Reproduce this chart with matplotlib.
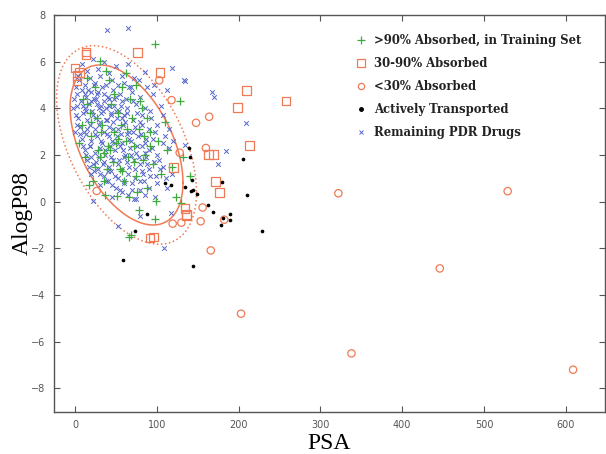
import numpy as np
import matplotlib
matplotlib.use("Agg")
import matplotlib.pyplot as plt
from matplotlib.lines import Line2D

# ---------------- data (PSA, AlogP98) ----------------
train_psa = [30.6, 97.8, 128, 132, 140, 130, 69, 66, 17, 36.7, 51, 66, 78.6, 97.8, 99, 124,
             10, 18, 25, 33, 40, 48, 55, 62, 70, 75, 85, 92, 105, 112, 20, 30, 44, 58, 65, 78,
             88, 8, 15, 38, 52, 60, 72, 82, 95, 102, 27, 36, 47, 56, 67, 76, 84, 12, 22, 42,
             88, 110, 118, 5, 62, 75, 28, 50, 35,
             19.5, 31.2, 43.1, 57.7, 63.8, 47.3, 24.6, 71.8, 83.4, 53.1, 38.6, 14.9, 91.1, 79.2]
train_logp = [6.04, 6.74, 4.3, 1.9, 1.1, -0.06, -1.44, -1.5, 0.73, 0.3, 0.23, 0.18, -0.34, -0.76, 0.03, 0.18,
              4.4, 3.8, 4.9, 3.3, 2.4, 3.0, 1.4, 2.6, 3.6, 1.1, 2.0, 3.0, 1.2, 2.2, 2.8, 1.9, 4.2, 4.9, 1.9, 3.1,
              0.6, 3.3, 5.3, 5.6, 3.8, 0.9, 2.4, 4.0, 1.6, 2.6, 3.6, 2.1, 1.7, 3.3, 4.4, 0.4, 2.8, 1.9, 0.9, 5.2,
              3.6, 3.4, 1.5, 2.5, 5.5, 5.0, 2.2, 2.5, 0.9,
              3.4, 3.0, 2.2, 1.3, 3.1, 4.6, 1.5, 1.7, 1.8, 2.7, 1.4, 4.2, 2.4, 4.3]

mid_psa = [13.4, 13.4, 0, 5, 2.5, 2.5, 76.6, 104, 210, 258, 199, 213, 163, 169, 172, 177, 136,
           120, 134.5, 136.5, 91.7, 95.7]
mid_logp = [6.41, 6.3, 5.73, 5.55, 5.4, 5.17, 6.4, 5.52, 4.78, 4.31, 4.02, 2.42, 2.03, 2.03, 0.85, 0.39, -0.55,
            1.45, -0.3, -0.58, -1.56, -1.51]

low_psa = [103, 118, 148, 164, 160, 156, 153.6, 182.5, 166, 203, 130, 128, 26.5, 119.4,
           322, 529, 446, 338, 609]
low_logp = [5.2, 4.35, 3.38, 3.64, 2.3, -0.25, -0.84, -0.77, -2.09, -4.8, -0.9, 2.1, 0.46, -0.94,
            0.36, 0.45, -2.86, -6.5, -7.2]

active_psa = [139.7, 140.6, 205, 142.6, 180, 134, 142, 144, 148.8, 210, 163, 169, 189.5, 189.5,
              180.5, 179, 229, 143.9, 58.3, 73.7, 87.6, 110, 117]
active_logp = [2.32, 1.92, 1.82, 0.95, 0.85, 0.63, 0.45, 0.49, 0.35, 0.27, -0.15, -0.44, -0.54, -0.77,
               -0.68, -0.98, -1.27, -2.76, -2.52, -1.26, -0.54, 0.82, 0.7]

pdr_psa = [8, 15, 22, 28, 35, 42, 50, 58, 65, 72,
           5, 12, 18, 25, 31, 38, 45, 52, 60, 68, 78, 88,
           3, 9, 14, 20, 27, 33, 40, 47, 55, 62, 70, 80, 95,
           2, 7, 12, 17, 23, 29, 35, 41, 48, 56, 63, 75, 86, 105,
           4, 10, 15, 21, 26, 32, 38, 44, 50, 57, 64, 71, 82, 93, 108,
           6, 11, 18, 24, 30, 36, 42, 47, 53, 59, 66, 73, 80, 90, 100,
           8, 14, 20, 27, 33, 39, 45, 51, 57, 63, 69, 77, 85, 95, 110, 120,
           12, 18, 25, 31, 37, 43, 49, 55, 61, 67, 74, 82, 90, 100, 115,
           15, 22, 29, 35, 41, 47, 53, 60, 66, 72, 79, 87, 97, 108,
           20, 28, 36, 44, 52, 58, 65, 73, 82, 92, 104, 118,
           30, 40, 50, 60, 70, 80, 90, 100, 112,
           45, 58, 72, 85, 98,
           53, 109, 117, 80,
           39.5, 64.4, 118, 133.6, 167, 170, 112, 96, 85, 134.5, 209, 134.5, 184, 175, 22.4, 0, -2,
           14.2, 17.8, 21.5, 24.1, 26.9, 29.3, 31.7, 34.4, 36.8, 39.1, 41.6, 43.9, 46.3, 48.7, 51.2,
           53.5, 55.9, 58.4, 60.8, 63.3, 65.7, 68.1, 70.6, 73.0, 75.4, 77.9, 80.3, 82.8, 85.2, 87.6,
           9.5, 11.8, 13.6, 16.4, 19.2, 22.7, 25.3, 28.6, 32.1, 35.5, 38.2, 41.0, 44.6, 47.8, 50.4,
           53.9, 57.2, 60.1, 1.2, 3.5, -1.5, 0.8, 2.9, 6.3, 9.8, 13.1, 16.7, 19.9, 23.4, 26.2,
           30.6, 33.8, 37.4, 40.9, 45.1, 49.3, 54.6, 59.7, 64.9, 69.8, 74.2, 79.6, 84.7, 89.9, 94.3,
           98.6, 103.2, 107.7, 111.3, 114.8, 66.5, 71.2, 76.3, 81.7, 86.9, 91.4, 97.2]
pdr_logp = [5.9, 5.6, 6.1, 5.7, 6.0, 5.5, 5.8, 5.4, 5.9, 5.3,
            5.2, 5.0, 5.3, 5.1, 5.4, 5.0, 5.2, 5.0, 5.1, 4.9, 5.2, 4.9,
            4.6, 4.8, 4.5, 4.7, 4.6, 4.9, 4.5, 4.8, 4.6, 4.4, 4.7, 4.5, 4.6,
            4.1, 4.3, 4.0, 4.2, 4.4, 4.0, 4.3, 4.1, 4.4, 4.1, 4.0, 4.2, 4.0, 4.1,
            3.6, 3.8, 3.5, 3.9, 3.6, 3.8, 3.5, 3.7, 3.9, 3.6, 3.8, 3.5, 3.7, 3.6, 3.7,
            3.2, 3.0, 3.3, 3.1, 3.4, 3.0, 3.2, 3.4, 3.1, 3.3, 3.0, 3.2, 3.4, 3.1, 3.3,
            2.7, 2.9, 2.6, 2.8, 2.5, 2.9, 2.6, 2.8, 2.5, 2.9, 2.6, 2.8, 2.5, 2.7, 2.8, 2.6,
            2.2, 2.4, 2.1, 2.3, 2.0, 2.4, 2.2, 2.4, 2.0, 2.3, 2.1, 2.4, 2.2, 2.0, 2.3,
            1.8, 1.6, 1.9, 1.7, 1.5, 1.8, 1.6, 1.9, 1.5, 1.8, 1.6, 1.9, 1.7, 1.5,
            1.2, 1.4, 1.1, 1.3, 1.0, 1.4, 1.2, 1.0, 1.3, 1.1, 1.4, 1.2,
            0.7, 0.9, 0.6, 0.8, 0.5, 0.9, 0.6, 0.8, 0.6,
            0.2, 0.4, 0.1, 0.3, 0.2,
            -1.06, -1.97, -0.48, -0.6,
            7.36, 7.43, 5.71, 5.2, 4.7, 4.5, 4.78, 5.0, 5.57, 5.18, 3.38, 2.45, 2.18, 1.6, 0.03, 3.0, 4.0,
            3.1, 2.4, 3.7, 2.9, 4.2, 3.3, 2.6, 3.9, 2.2, 3.5, 2.8, 1.9, 3.1, 2.5, 3.6,
            1.8, 2.9, 2.2, 3.4, 1.7, 2.7, 2.0, 3.0, 1.4, 2.4, 1.9, 2.9, 1.2, 2.1, 1.6,
            4.1, 4.6, 3.9, 4.8, 4.3, 5.0, 4.4, 4.7, 4.1, 4.6, 4.0, 4.4, 3.8, 4.1, 4.5,
            3.9, 4.3, 3.7, 4.9, 5.4, 4.4, 3.7, 3.3, 2.9, 2.4, 2.0, 1.5, 1.9, 1.3, 1.7,
            1.2, 1.6, 0.9, 1.3, 0.7, 1.1, 0.5, 0.9, 0.3, 0.8, 0.1, 0.5, 0.9, 1.4, 2.3,
            1.1, 1.8, 2.5, 1.0, 3.1, 4.9, 4.3, 3.8, 3.3, 2.7, 3.9, 3.0]

# confidence ellipse parameters: centre, half-extents (95%), correlation
ell_center = (63.0, 2.43)
ell_half95 = (69.0, 3.43)
ell_corr = -0.47
ell_scale99 = 1.24

labels = [">90% Absorbed, in Training Set", "30-90% Absorbed", "<30% Absorbed",
          "Actively Transported", "Remaining PDR Drugs"]

# ---------------- style ----------------
C_GREEN = "#3faa3f"
C_SAL = "#f07a55"
C_BLUE = "#5566cc"

fig = plt.figure(figsize=(6.06, 4.54), dpi=100)
ax = fig.add_axes([54/606, (454-411.7)/454, 551/606, 396.7/454])

ax.scatter(pdr_psa, pdr_logp, marker="x", s=11, c=C_BLUE, linewidths=0.7, zorder=3)
ax.scatter(train_psa, train_logp, marker="+", s=36, c=C_GREEN, linewidths=0.9, zorder=4)
ax.scatter(mid_psa, mid_logp, marker="s", s=40, facecolors="none", edgecolors=C_SAL, linewidths=0.9, zorder=5)
ax.scatter(low_psa, low_logp, marker="o", s=28, facecolors="none", edgecolors=C_SAL, linewidths=0.9, zorder=5)
ax.scatter(active_psa, active_logp, marker="o", s=7, c="black", linewidths=0, zorder=6)

t = np.linspace(0, 2*np.pi, 300)
for scale, ls in [(1.0, "-"), (ell_scale99, ":")]:
    sx, sy = ell_half95[0]*scale, ell_half95[1]*scale
    ex = ell_center[0] + sx*np.cos(t)
    ey = ell_center[1] + sy*(ell_corr*np.cos(t) + np.sqrt(1-ell_corr**2)*np.sin(t))
    ax.plot(ex, ey, color=C_SAL, lw=1.1, ls=ls, zorder=2)

ax.set_xlim(-25.7, 648)
ax.set_ylim(-9, 8)
ax.set_xticks(range(0, 700, 100))
ax.set_yticks(range(-8, 10, 2))
ax.tick_params(direction="in", top=True, right=True, length=4, width=0.8,
               colors="#555555", labelsize=7, pad=6)
for sp in ax.spines.values():
    sp.set_color("#555555")
    sp.set_linewidth(1.0)

ax.set_xlabel("PSA", family="Liberation Serif", fontsize=17, labelpad=2)
ax.set_ylabel("AlogP98", family="Liberation Serif", fontsize=17, labelpad=-1)

handles = [
    Line2D([], [], ls="none", marker="+", color=C_GREEN, markersize=6, mew=0.9),
    Line2D([], [], ls="none", marker="s", mfc="none", mec=C_SAL, markersize=5.5, mew=0.9),
    Line2D([], [], ls="none", marker="o", mfc="none", mec=C_SAL, markersize=4.5, mew=0.9),
    Line2D([], [], ls="none", marker="o", color="black", markersize=2.5),
    Line2D([], [], ls="none", marker="x", color=C_BLUE, markersize=3, mew=0.7),
]
leg = ax.legend(handles, labels, loc="upper left", bbox_to_anchor=(0.528, 0.978),
                frameon=False, handlelength=1.0, handletextpad=0.56, labelspacing=0.85,
                borderpad=0.4,
                prop={"family": "DejaVu Serif", "weight": "bold", "size": 8.4})
for txt in leg.get_texts():
    txt.set_color("#222222")

fig.savefig("out.png", dpi=100)
